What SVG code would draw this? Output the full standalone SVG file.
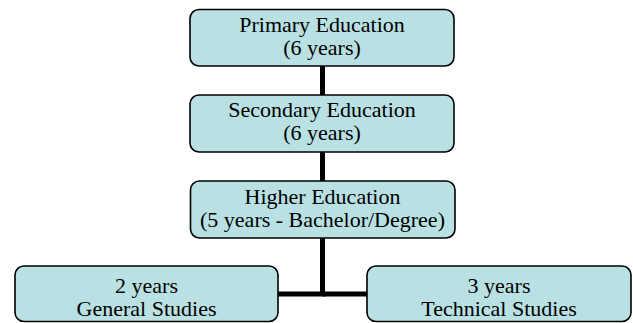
<svg xmlns="http://www.w3.org/2000/svg" width="633" height="323" viewBox="0 0 633 323">
<style>
.box{fill:#b9e0e3;stroke:#000;stroke-width:1.6}
.t{font-family:"Liberation Serif","Times New Roman",serif;font-size:22px;fill:#000;text-anchor:middle}
.c{stroke:#000;stroke-width:5;fill:none}
</style>
<rect width="633" height="323" fill="#fff"/>
<g id="connectors">
<line class="c" x1="322.5" y1="66" x2="322.5" y2="95"/>
<line class="c" x1="322.5" y1="152" x2="322.5" y2="181"/>
<polyline class="c" points="322.5,238 322.5,294 278,294"/>
<line class="c" x1="322.5" y1="294" x2="367" y2="294"/>
</g>
<g id="primary">
<rect class="box" x="190" y="9.5" width="264" height="56.5" rx="9"/>
<text class="t" x="322" y="32">Primary Education</text>
<text class="t" x="322" y="55">(6 years)</text>
</g>
<g id="secondary">
<rect class="box" x="190" y="95" width="264" height="57" rx="9"/>
<text class="t" x="322" y="117">Secondary Education</text>
<text class="t" x="322" y="140">(6 years)</text>
</g>
<g id="higher">
<rect class="box" x="190.5" y="181" width="264.5" height="57" rx="9"/>
<text class="t" x="322.5" y="204">Higher Education</text>
<text class="t" x="322.5" y="227">(5 years - Bachelor/Degree)</text>
</g>
<g id="general">
<rect class="box" x="15" y="266" width="263" height="55.5" rx="9"/>
<text class="t" x="146.5" y="293">2 years</text>
<text class="t" x="146.5" y="316">General Studies</text>
</g>
<g id="technical">
<rect class="box" x="367" y="266" width="264" height="55.5" rx="9"/>
<text class="t" x="499" y="293">3 years</text>
<text class="t" x="499" y="316">Technical Studies</text>
</g>
</svg>
